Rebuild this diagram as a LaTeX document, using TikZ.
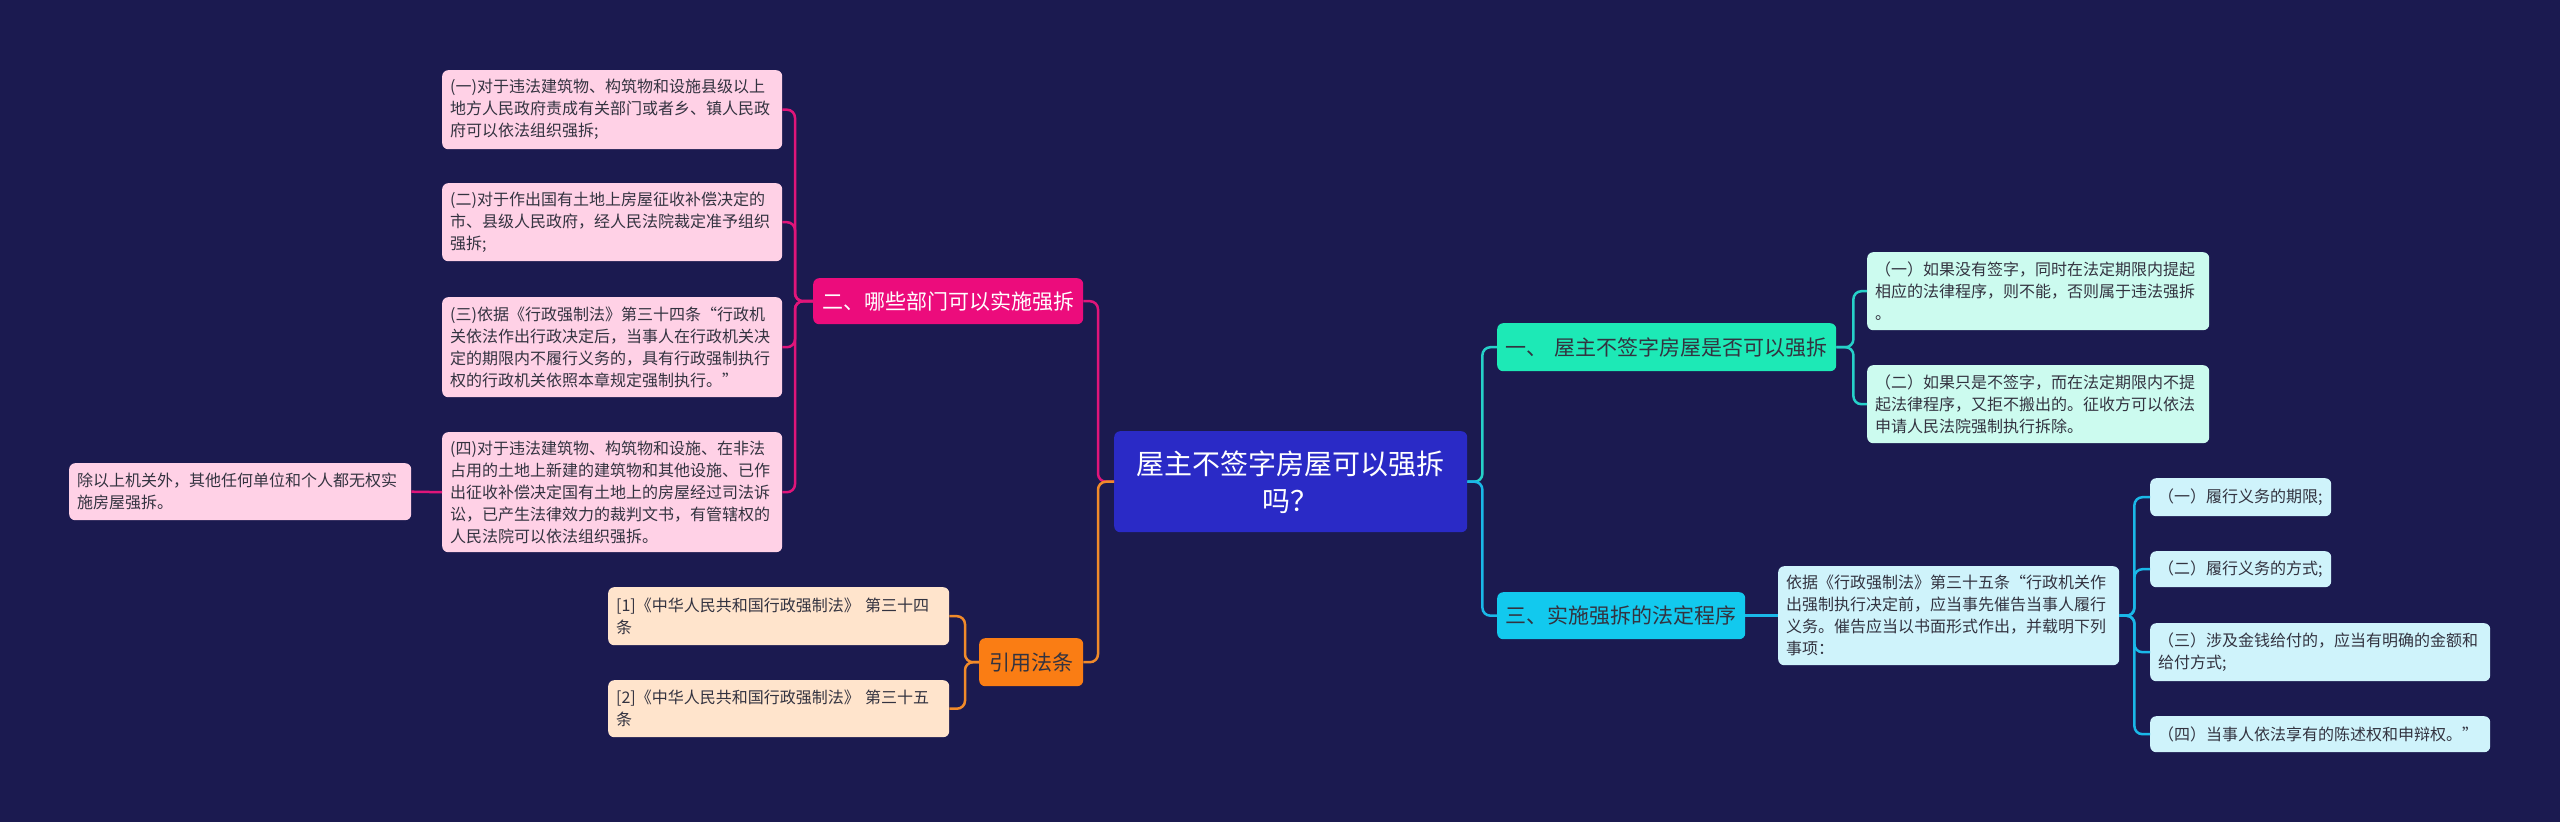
\documentclass[tikz,border=0pt]{standalone}
\usepackage{fontspec}
\setmainfont{Noto Sans CJK SC}
\usepackage{tikz}
\usetikzlibrary{calc}
\usetikzlibrary{positioning}

\definecolor{bgnavy}{HTML}{1B1A50}
\definecolor{rootblue}{HTML}{2A2AC6}
\definecolor{tealfill}{HTML}{1DE9B6}
\definecolor{tealleaf}{HTML}{CCFBEF}
\definecolor{tealline}{HTML}{26D0C8}
\definecolor{cyanfill}{HTML}{12C9EE}
\definecolor{cyanleaf}{HTML}{CFF3FB}
\definecolor{cyanline}{HTML}{1AB8E8}
\definecolor{pinkfill}{HTML}{EC0C7C}
\definecolor{pinkleaf}{HTML}{FFD1E6}
\definecolor{pinkline}{HTML}{E0157A}
\definecolor{orangefill}{HTML}{FA7D14}
\definecolor{orangeleaf}{HTML}{FFE4CC}
\definecolor{orangeline}{HTML}{F08A2A}
\definecolor{leaftext}{HTML}{333340}

\tikzset{
  box/.style={anchor=north west, rounded corners=6pt, inner xsep=8pt, inner ysep=0pt,
    align=left, font=\fontsize{16}{22}\selectfont, text=leaftext},
  branchbox/.style={anchor=north west, rounded corners=6pt, inner xsep=8pt, inner ysep=0pt,
    align=center, font=\fontsize{21}{28}\selectfont},
  link/.style={line width=2.5pt, rounded corners=8pt}
}

\begin{document}
\begin{tikzpicture}[x=1pt,y=-1pt]
    \fill[bgnavy] (0,0) rectangle (2560,822);
    \useasboundingbox (0,0) rectangle (2560,822);
    % root
    \node[branchbox, fill=rootblue, text=white, text width=337pt, minimum height=101pt,
          font=\fontsize{28}{37}\selectfont] (root) at (1114,431) {屋主不签字房屋可以强拆\\吗？};
    % left side
    \node[branchbox, fill=pinkfill, text=white, text width=254pt, minimum height=46pt] (parts) at (813,278) {二、哪些部门可以实施强拆};
    \node[box, fill=pinkleaf, text width=324pt, minimum height=79pt] (parta) at (442,70)
        {(一)对于违法建筑物、构筑物和设施县级以上\\地方人民政府责成有关部门或者乡、镇人民政\\府可以依法组织强拆;};
    \node[box, fill=pinkleaf, text width=324pt, minimum height=78pt] (partb) at (442,183)
        {(二)对于作出国有土地上房屋征收补偿决定的\\市、县级人民政府，经人民法院裁定准予组织\\强拆;};
    \node[box, fill=pinkleaf, text width=324pt, minimum height=100pt] (partc) at (442,297)
        {(三)依据《行政强制法》第三十四条“行政机\\关依法作出行政决定后，当事人在行政机关决\\定的期限内不履行义务的，具有行政强制执行\\权的行政机关依照本章规定强制执行。”};
    \node[box, fill=pinkleaf, text width=324pt, minimum height=120pt] (partd) at (442,432)
        {(四)对于违法建筑物、构筑物和设施、在非法\\占用的土地上新建的建筑物和其他设施、已作\\出征收补偿决定国有土地上的房屋经过司法诉\\讼，已产生法律效力的裁判文书，有管辖权的\\人民法院可以依法组织强拆。};
    \node[box, fill=pinkleaf, text width=326pt, minimum height=57pt] (others) at (69,463)
        {除以上机关外，其他任何单位和个人都无权实\\施房屋强拆。};
    \node[branchbox, fill=orangefill, text=leaftext, text width=88pt, minimum height=48pt] (cite) at (979,638) {引用法条};
    \node[box, fill=orangeleaf, text width=325pt, minimum height=58pt] (lawa) at (608,587)
        {[1]《中华人民共和国行政强制法》 第三十四\\条};
    \node[box, fill=orangeleaf, text width=325pt, minimum height=57pt] (lawb) at (608,680)
        {[2]《中华人民共和国行政强制法》 第三十五\\条};
    % right side
    \node[branchbox, fill=tealfill, text=leaftext, text width=323pt, minimum height=48pt] (canq) at (1497,323) {一、 屋主不签字房屋是否可以强拆};
    \node[box, fill=tealleaf, text width=326pt, minimum height=78pt] (cana) at (1867,252)
        {（一）如果没有签字，同时在法定期限内提起\\相应的法律程序，则不能，否则属于违法强拆\\。};
    \node[box, fill=tealleaf, text width=326pt, minimum height=78pt] (canb) at (1867,365)
        {（二）如果只是不签字，而在法定期限内不提\\起法律程序，又拒不搬出的。征收方可以依法\\申请人民法院强制执行拆除。};
    \node[branchbox, fill=cyanfill, text=leaftext, text width=232pt, minimum height=47pt] (steps) at (1497,592) {三、实施强拆的法定程序};
    \node[box, fill=cyanleaf, text width=325pt, minimum height=99pt] (notice) at (1778,566)
        {依据《行政强制法》第三十五条“行政机关作\\出强制执行决定前，应当事先催告当事人履行\\义务。催告应当以书面形式作出，并载明下列\\事项：};
    \node[box, fill=cyanleaf, text width=165pt, minimum height=38pt] (itema) at (2150,478) {（一）履行义务的期限;};
    \node[box, fill=cyanleaf, text width=165pt, minimum height=36pt] (itemb) at (2150,551) {（二）履行义务的方式;};
    \node[box, fill=cyanleaf, text width=324pt, minimum height=58pt] (itemc) at (2150,623)
        {（三）涉及金钱给付的，应当有明确的金额和\\给付方式;};
    \node[box, fill=cyanleaf, text width=324pt, minimum height=36pt] (itemd) at (2150,716) {（四）当事人依法享有的陈述权和申辩权。”};
    % links
    \draw[link, pinkline] (root.west) -- ++(-16,0) |- (parts.east);
    \draw[link, orangeline] (root.west) -- ++(-16,0) |- (cite.east);
    \foreach \n in {parta,partb,partc,partd}
        \draw[link, pinkline] (parts.west) -- ++(-18,0) |- (\n.east);
    \draw[link, pinkline] (partd.west) -- (others.east);
    \foreach \n in {lawa,lawb}
        \draw[link, orangeline] (cite.west) -- ++(-14,0) |- (\n.east);
    \draw[link, tealline] (root.east) -- ++(15,0) |- (canq.west);
    \draw[link, cyanline] (root.east) -- ++(15,0) |- (steps.west);
    \foreach \n in {cana,canb}
        \draw[link, tealline] (canq.east) -- ++(17,0) |- (\n.west);
    \draw[link, cyanline] (steps.east) -- (notice.west);
    \foreach \n in {itema,itemb,itemc,itemd}
        \draw[link, cyanline] (notice.east) -- ++(15,0) |- (\n.west);
\end{tikzpicture}
\end{document}
